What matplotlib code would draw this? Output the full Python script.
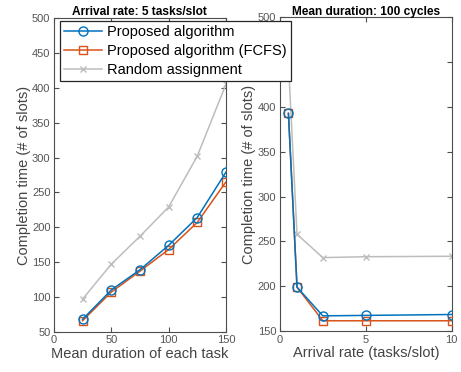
import matplotlib
matplotlib.use("Agg")
import matplotlib.pyplot as plt

plt.rcParams['font.family'] = ['Liberation Sans', 'DejaVu Sans']

# left panel: arrival rate 5 tasks/slot
durations = [25, 50, 75, 100, 125, 150]
prop_dur = [68, 110, 139, 174, 214, 279]
fcfs_dur = [66, 107, 137, 168, 207, 265]
rand_dur = [97, 147, 187, 229, 302, 405]

# right panel: mean duration 100 cycles
rates = [0.5, 1, 2.5, 5, 10]
prop_rate = [393, 199, 167, 167.5, 168.5]
fcfs_rate = [393, 199, 161.5, 161.5, 161.5]
rand_rate = [450, 258, 232, 233, 233.5]

labels = ['Proposed algorithm', 'Proposed algorithm (FCFS)', 'Random assignment']
c_blue = '#0072BD'
c_orange = '#D95319'
c_gray = '#BDBDBD'
axis_col = '#4d4d4d'
text_col = '#444444'

fig = plt.figure(figsize=(4.61, 3.72), dpi=100)
ax1 = fig.add_axes([0.117, 0.108, 0.373, 0.843])
ax2 = fig.add_axes([0.607, 0.110, 0.373, 0.843])


def draw(ax, x, a, b, c):
    h1, = ax.plot(x, a, color=c_blue, marker='o', mfc='none', ms=6.5, lw=1.1, label=labels[0], zorder=4)
    h2, = ax.plot(x, b, color=c_orange, marker='s', mfc='none', ms=5.5, lw=1.1, label=labels[1], zorder=3)
    h3, = ax.plot(x, c, color=c_gray, marker='x', ms=5, lw=1.1, label=labels[2], zorder=2)
    for s in ax.spines.values():
        s.set_color(axis_col)
        s.set_linewidth(0.8)
    ax.tick_params(direction='in', top=True, right=True, labelsize=8,
                   colors=axis_col, length=3.5, width=0.8, pad=2.5)
    for t in ax.get_xticklabels() + ax.get_yticklabels():
        t.set_color('#555555')
    ax.set_ylabel('Completion time (# of slots)', fontsize=10.5, color=text_col, labelpad=1)
    return [h1, h2, h3]


handles = draw(ax1, durations, prop_dur, fcfs_dur, rand_dur)
ax1.set_xlim(0, 150)
ax1.set_ylim(50, 500)
ax1.set_xticks([0, 50, 100, 150])
ax1.set_yticks(range(50, 501, 50))
ax1.set_xlabel('Mean duration of each task', fontsize=10.5, color=text_col, labelpad=1)
ax1.set_title('Arrival rate: 5 tasks/slot', fontsize=8.6, fontweight='bold', pad=2)

draw(ax2, rates, prop_rate, fcfs_rate, rand_rate)
ax2.set_xlim(0, 10)
ax2.set_ylim(150, 500)
ax2.set_xticks([0, 5, 10])
ax2.set_yticks(range(150, 501, 50))
ax2.set_xlabel('Arrival rate (tasks/slot)', fontsize=10.5, color=text_col, labelpad=1)
ax2.set_title('Mean duration: 100 cycles', fontsize=8.6, fontweight='bold', pad=2)

leg = fig.legend(handles=handles, loc='upper left', bbox_to_anchor=(0.130, 0.944),
                 fontsize=10.5, frameon=True, fancybox=False, framealpha=1,
                 handlelength=2.6, handletextpad=0.3, borderpad=0.3, labelspacing=0.33,
                 borderaxespad=0)
leg.get_frame().set_edgecolor('#262626')
leg.get_frame().set_linewidth(0.9)

fig.savefig('out.png', dpi=100)
